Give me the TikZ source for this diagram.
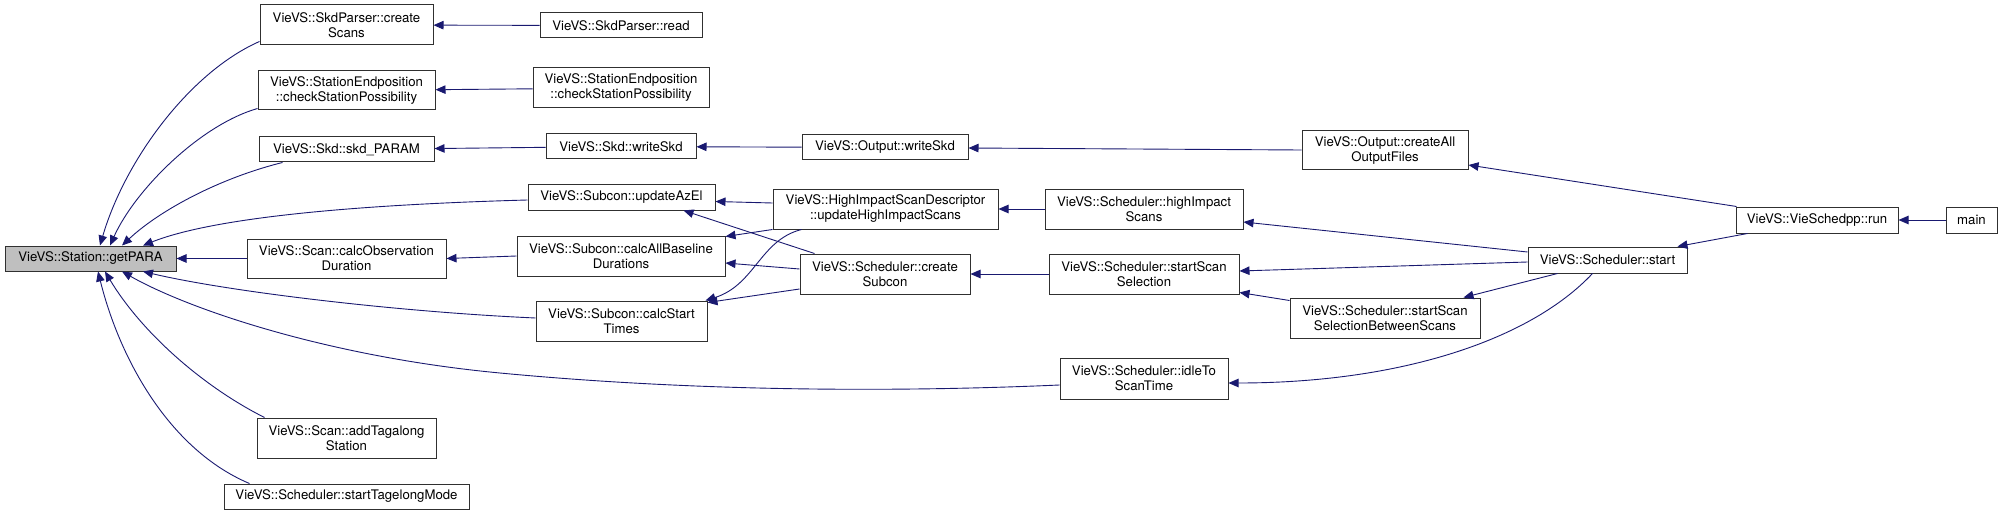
\documentclass[tikz,border=0pt]{standalone}
\usepackage{fontspec}
\setmainfont{TeX Gyre Heros}
\usepackage{tikz}
\usetikzlibrary{arrows.meta}
\usepackage{xcolor}
\definecolor{EdgeBlue}{HTML}{191970}
\definecolor{BoxLine}{HTML}{303030}
\definecolor{RootGray}{HTML}{BFBFBF}
\tikzset{
    % Box styles - plain rectangles
    func/.style={
        rectangle,
        draw=BoxLine,
        fill=white,
        line width=1pt,
        inner sep=0pt,
        align=center,
        font=\fontsize{13.2}{15}\selectfont
    },
    rootfunc/.style={
        func,
        fill=RootGray
    },
    % Arrow style - caller to callee
    callarrow/.style={
        -{Triangle[length=10pt,width=8.5pt]},
        line width=0.9pt,
        draw=EdgeBlue
    }
}

\begin{document}
\begin{tikzpicture}[x=1pt, y=-1pt]
    \useasboundingbox (0,0) rectangle (2003,516);

    % Column 0
    \node[rootfunc, minimum width=171pt, minimum height=25pt] (gp) at (90.5,258.5) {VieVS::Station::getPARA};

    % Column 1
    \node[func, minimum width=173pt, minimum height=40pt] (createScans) at (346.5,25) {VieVS::SkdParser::create\\Scans};
    \node[func, minimum width=177pt, minimum height=39pt] (checkStA) at (346.5,90.5) {VieVS::StationEndposition\\::checkStationPossibility};
    \node[func, minimum width=175pt, minimum height=25pt] (skdParam) at (346.5,149.5) {VieVS::Skd::skd\_PARAM};
    \node[func, minimum width=199pt, minimum height=39pt] (calcObs) at (346.5,258.5) {VieVS::Scan::calcObservation\\Duration};
    \node[func, minimum width=179pt, minimum height=40pt] (addTag) at (346.5,438) {VieVS::Scan::addTagalong\\Station};
    \node[func, minimum width=245pt, minimum height=25pt] (startTag) at (346.5,496.5) {VieVS::Scheduler::startTagelongMode};

    % Column 2
    \node[func, minimum width=162pt, minimum height=25pt] (skdRead) at (621,25.5) {VieVS::SkdParser::read};
    \node[func, minimum width=176pt, minimum height=40pt] (checkStB) at (621,88) {VieVS::StationEndposition\\::checkStationPossibility};
    \node[func, minimum width=150pt, minimum height=25pt] (skdWrite) at (621,146.5) {VieVS::Skd::writeSkd};
    \node[func, minimum width=187pt, minimum height=26pt] (updAzEl) at (621.5,197) {VieVS::Subcon::updateAzEl};
    \node[func, minimum width=208pt, minimum height=40pt] (calcBase) at (621,256) {VieVS::Subcon::calcAllBaseline\\Durations};
    \node[func, minimum width=171pt, minimum height=40pt] (calcStart) at (621.5,321) {VieVS::Subcon::calcStart\\Times};

    % Column 3
    \node[func, minimum width=166pt, minimum height=25pt] (outWrite) at (885,147.5) {VieVS::Output::writeSkd};
    \node[func, minimum width=225pt, minimum height=40pt] (hiDesc) at (885.5,209) {VieVS::HighImpactScanDescriptor\\::updateHighImpactScans};
    \node[func, minimum width=170pt, minimum height=40pt] (createSub) at (885,274) {VieVS::Scheduler::create\\Subcon};

    % Column 4
    \node[func, minimum width=166pt, minimum height=39pt] (createAll) at (1385,150.5) {VieVS::Output::createAll\\OutputFiles};
    \node[func, minimum width=198pt, minimum height=40pt] (hiScans) at (1144,209) {VieVS::Scheduler::highImpact\\Scans};
    \node[func, minimum width=190pt, minimum height=40pt] (startSel) at (1144,274) {VieVS::Scheduler::startScan\\Selection};
    \node[func, minimum width=190pt, minimum height=40pt] (betweenScans) at (1385,318) {VieVS::Scheduler::startScan\\SelectionBetweenScans};
    \node[func, minimum width=168pt, minimum height=41pt] (idleTo) at (1144,378.5) {VieVS::Scheduler::idleTo\\ScanTime};

    % Column 5 and 6
    \node[func, minimum width=159pt, minimum height=26pt] (schedStart) at (1607.5,260) {VieVS::Scheduler::start};
    \node[func, minimum width=162pt, minimum height=26pt] (vieRun) at (1817,220) {VieVS::VieSchedpp::run};
    \node[func, minimum width=51pt, minimum height=26pt] (mainFn) at (1971.5,220) {main};

    % Calls into getPARA
    \draw[callarrow] ([yshift=4pt]createScans.south west) .. controls (190,72) and (125,160) .. ([xshift=9.5pt]gp.north);
    \draw[callarrow] ([yshift=2pt]checkStA.south west) .. controls (200,125) and (135,190) .. ([xshift=19.5pt]gp.north);
    \draw[callarrow] ([xshift=24pt]skdParam.south west) .. controls (220,178) and (160,210) .. ([xshift=31.5pt]gp.north);
    \draw[callarrow] ([yshift=-3pt]updAzEl.west) .. controls (380,204) and (220,215) .. ([xshift=52.5pt]gp.north);
    \draw[callarrow] (calcObs) -- (gp);
    \draw[callarrow] ([yshift=3pt]calcStart.west) .. controls (400,312) and (230,292) .. ([xshift=52.5pt]gp.south);
    \draw[callarrow] ([yshift=-6.5pt]idleTo.west) .. controls (900,392) and (700,392) .. (500,373)
        .. controls (330,357) and (190,310) .. ([xshift=31.5pt]gp.south);
    \draw[callarrow] ([xshift=8pt]addTag.north west) .. controls (200,385) and (140,330) .. ([xshift=14.5pt]gp.south);
    \draw[callarrow] ([xshift=26pt]startTag.north west) .. controls (170,450) and (120,360) .. ([xshift=7.5pt]gp.south);

    % Column 2 to column 1
    \draw[callarrow] (skdRead) -- (createScans);
    \draw[callarrow] (checkStB) -- (checkStA);
    \draw[callarrow] (skdWrite) -- (skdParam);
    \draw[callarrow] (calcBase.west) -- (calcObs.east);

    % Column 3 to column 2
    \draw[callarrow] (outWrite) -- (skdWrite);
    \draw[callarrow] ([yshift=6pt]hiDesc.west) -- ([yshift=-4.5pt]updAzEl.east);
    \draw[callarrow] (hiDesc.south west) -- ([yshift=-1pt]calcBase.north east);
    \draw[callarrow] ([xshift=29pt]hiDesc.south west) .. controls (760,240) and (755,285) .. ([xshift=-2pt]calcStart.north east);
    \draw[callarrow] ([xshift=15pt]createSub.north west) -- ([xshift=-32pt]updAzEl.south east);
    \draw[callarrow] ([yshift=5pt]createSub.west) -- ([yshift=-7pt]calcBase.east);
    \draw[callarrow] ([yshift=-15pt]createSub.west) -- ([yshift=-2pt]calcStart.north east);

    % Column 4 to column 3
    \draw[callarrow] (createAll) -- (outWrite);
    \draw[callarrow] (hiScans) -- (hiDesc);
    \draw[callarrow] (startSel) -- (createSub);
    \draw[callarrow] ([yshift=-3pt]betweenScans.north west) -- ([yshift=2pt]startSel.south east);

    % Scheduler::start and above
    \draw[callarrow] ([yshift=8pt]schedStart.west) -- ([yshift=-13pt]hiScans.east);
    \draw[callarrow] ([yshift=-2pt]schedStart.west) -- ([yshift=3pt]startSel.east);
    \draw[callarrow] ([xshift=30pt]schedStart.south west) -- ([xshift=-17pt]betweenScans.north east);
    \draw[callarrow] ([xshift=65pt]schedStart.south west) .. controls (1530,340) and (1400,383) .. ([yshift=-4.5pt]idleTo.east);
    \draw[callarrow] ([xshift=1pt]vieRun.north west) -- ([yshift=-14.5pt]createAll.east);
    \draw[callarrow] ([xshift=12pt]vieRun.south west) -- ([xshift=-10pt]schedStart.north east);
    \draw[callarrow] (mainFn) -- (vieRun);
\end{tikzpicture}
\end{document}
